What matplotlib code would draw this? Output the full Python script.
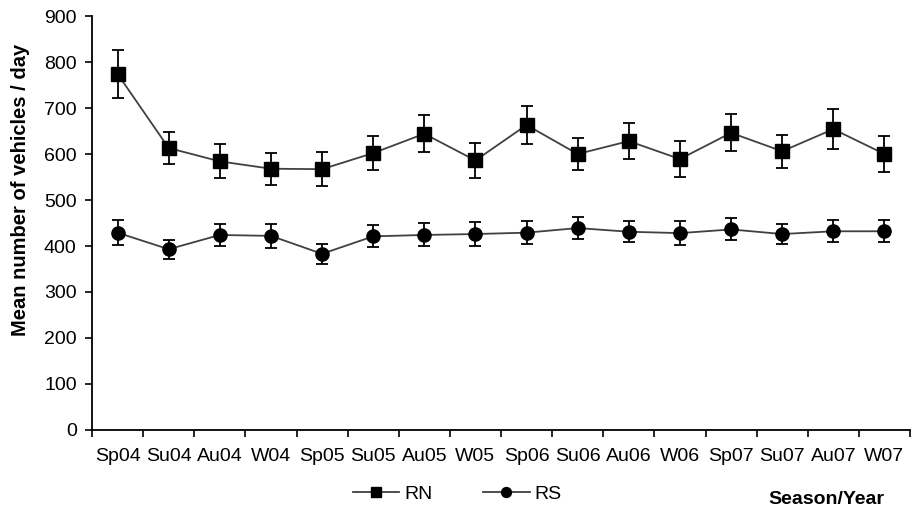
import matplotlib
matplotlib.use("Agg")
import matplotlib.pyplot as plt
import numpy as np

plt.rcParams['font.family'] = ['Liberation Sans', 'DejaVu Sans']

seasons = ["Sp04", "Su04", "Au04", "W04", "Sp05", "Su05", "Au05", "W05",
           "Sp06", "Su06", "Au06", "W06", "Sp07", "Su07", "Au07", "W07"]
rn_mean = [774, 613, 584, 568, 567, 602, 644, 586, 663, 600, 628, 589, 646, 606, 654, 600]
rn_err = [52, 35, 37, 35, 37, 37, 40, 38, 41, 35, 39, 40, 40, 36, 43, 39]
rs_mean = [429, 393, 424, 422, 383, 421, 424, 426, 429, 439, 431, 428, 436, 426, 432, 432]
rs_err = [27, 21, 24, 26, 22, 24, 25, 26, 25, 24, 23, 26, 24, 21, 24, 24]
y_ticks = [0, 100, 200, 300, 400, 500, 600, 700, 800, 900]

fig = plt.figure(figsize=(9.16, 5.11), dpi=100)
ax = fig.add_axes([92/916, 1 - 430/511, 818/916, 414/511])

x = np.arange(len(seasons))
line_col = '#404040'
for mean, err, mk, ms, lab in [(rn_mean, rn_err, 's', 10, 'RN'),
                               (rs_mean, rs_err, 'o', 9.5, 'RS')]:
    ax.errorbar(x, mean, yerr=err, fmt='none', ecolor='black', elinewidth=1.3,
                capsize=4.5, capthick=1.3, zorder=2)
    ax.plot(x, mean, color=line_col, lw=1.3, marker=mk, markersize=ms,
            markerfacecolor='black', markeredgecolor='black', label=lab, zorder=3)

ax.set_xlim(-0.5, len(seasons) - 0.5)
ax.set_ylim(0, 900)
ax.set_yticks(y_ticks)
ax.set_yticklabels([str(v) for v in y_ticks], fontsize=14)
ax.set_xticks(np.arange(-0.5, len(seasons), 1.0))
ax.set_xticklabels([])
ax.set_xticks(x, minor=True)
ax.set_xticklabels(seasons, minor=True, fontsize=14)
ax.tick_params(axis='x', which='minor', length=0, pad=13)
ax.tick_params(axis='x', which='major', length=5, width=1.2, direction='out')
ax.tick_params(axis='y', length=5, width=1.2, direction='out', pad=6)
for s in ['top', 'right']:
    ax.spines[s].set_visible(False)
for s in ['left', 'bottom']:
    ax.spines[s].set_linewidth(1.3)

ax.set_ylabel("Mean number of vehicles / day", fontsize=14.5, fontweight='bold')
ax.yaxis.set_label_coords(-62/818, 0.58)

fig.legend(loc='center', bbox_to_anchor=(457/916, 1 - 494/511), ncol=2, frameon=False,
           fontsize=14, handlelength=2.4, columnspacing=2.6, handletextpad=0.25,
           markerscale=0.75)
fig.text(826/916, 1 - 499/511, "Season/Year", ha='center', va='center',
         fontsize=14, fontweight='bold')

fig.savefig("out.png", dpi=100)
